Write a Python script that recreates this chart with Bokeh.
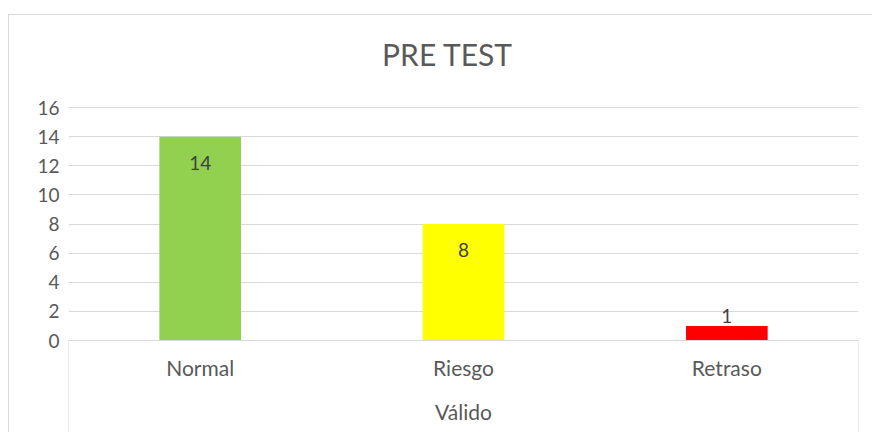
from bokeh.plotting import figure
from bokeh.models import Range1d, FixedTicker, ColumnDataSource, Label
from bokeh.core.properties import value
from bokeh.embed import file_html
from bokeh.resources import INLINE

# ---- data ----
categories = ["Normal", "Riesgo", "Retraso"]
counts = [14, 8, 1]
bar_colors = ["#92D050", "#FFFF00", "#FF0000"]
y_ticks = [0, 2, 4, 6, 8, 10, 12, 14, 16]
title_text = "PRE TEST"
group_label = "Válido"

FONT = "Lato"
TXT = "#595959"
GRID = "#d9d9d9"

px_per_unit = 233 / 16.0
y_top = 16 + 92 / px_per_unit      # room above the grid for the title
y_bottom = -93 / px_per_unit       # room below the axis for the category box

label_offsets = [26 if v >= 3 else -10 for v in counts]
source = ColumnDataSource(dict(cat=categories, count=counts, color=bar_colors,
                               label=[str(v) for v in counts], off=label_offsets))

p = figure(x_range=categories, y_range=Range1d(y_bottom, y_top),
           width=864, height=418, output_backend="svg", toolbar_location=None,
           min_border_left=59, min_border_right=15, min_border_top=0, min_border_bottom=0,
           styles={"border-left": "1px solid #d9d9d9", "border-top": "1px solid #d9d9d9",
                   "margin-top": "14px", "margin-left": "8px"})
p.outline_line_color = None
p.background_fill_color = "white"
p.border_fill_color = "white"

# chart title (screen units relative to the plot frame)
title = Label(text=title_text, x=379, y=380, x_units="screen", y_units="screen",
              text_align="center", text_baseline="middle", text_font=FONT,
              text_font_size="30px", text_color=TXT)
p.add_layout(title)

# grid
p.xgrid.grid_line_color = None
p.ygrid.ticker = FixedTicker(ticks=y_ticks)
p.ygrid.grid_line_color = GRID
p.ygrid.grid_line_width = 1

# y axis
p.yaxis.ticker = FixedTicker(ticks=y_ticks)
p.yaxis.axis_line_color = None
p.yaxis.major_tick_line_color = None
p.yaxis.minor_tick_line_color = None
p.yaxis.major_label_standoff = 3
p.yaxis.major_label_text_font = FONT
p.yaxis.major_label_text_font_size = "19px"
p.yaxis.major_label_text_color = TXT

# x axis at y = 0
p.xaxis.fixed_location = 0
p.xaxis.axis_line_color = GRID
p.xaxis.major_tick_line_color = None
p.xaxis.minor_tick_line_color = None
p.xaxis.major_label_standoff = 8
p.xaxis.major_label_text_font = FONT
p.xaxis.major_label_text_font_size = "21px"
p.xaxis.major_label_text_color = TXT
p.xaxis.axis_label = group_label
p.xaxis.axis_label_standoff = 16
p.xaxis.axis_label_text_font = FONT
p.xaxis.axis_label_text_font_style = "normal"
p.xaxis.axis_label_text_font_size = "21px"
p.xaxis.axis_label_text_color = TXT

# box edges below the axis
p.segment(x0=[(categories[0], -0.5), (categories[-1], 0.5)],
          x1=[(categories[0], -0.5), (categories[-1], 0.5)],
          y0=[0, 0], y1=[y_bottom, y_bottom], line_color=GRID, line_width=1)

# bars
p.vbar(x="cat", top="count", bottom=0, width=0.31, fill_color="color",
       line_color=None, source=source)

# data labels
p.text(x="cat", y="count", text="label", y_offset="off", source=source,
       text_align="center", text_baseline="middle", text_font=value(FONT),
       text_font_size="19px", text_color="#404040")

open("out.html", "w").write(file_html(p, INLINE))
